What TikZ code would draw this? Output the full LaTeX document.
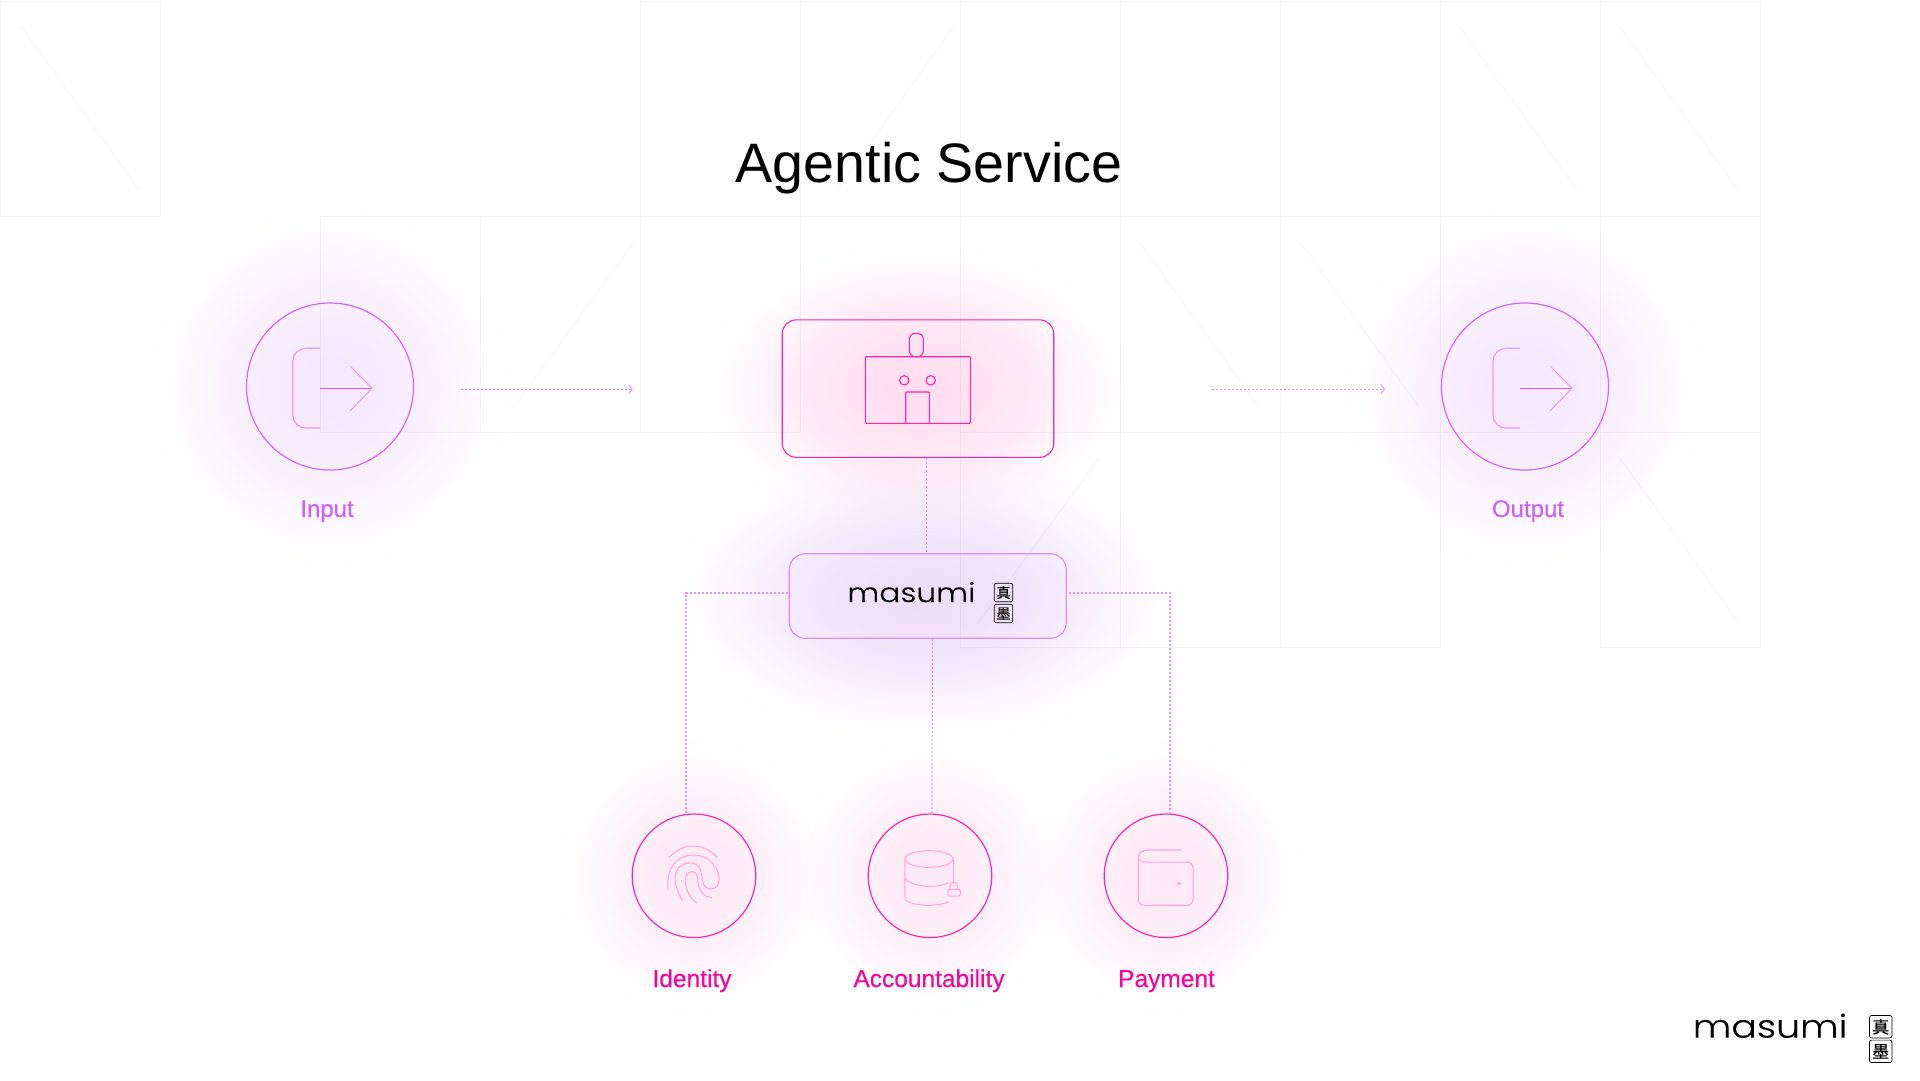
\documentclass[tikz,border=0pt]{standalone}
\usepackage{fontspec}
\usetikzlibrary{arrows.meta,calc}
\setmainfont{Liberation Sans}
\newfontfamily\labelfont[FakeBold=0.35]{Liberation Sans}
\newfontfamily\logofont[FakeStretch=1.18,FakeBold=0.15]{Poppins Light}
\newfontfamily\kanjifont[FakeBold=0.2]{Noto Sans CJK JP}
\definecolor{gridc}{HTML}{F5F5F6}
\definecolor{diagc}{HTML}{F6F6F8}
\definecolor{pinkline}{HTML}{F22AA6}
\definecolor{pinktext}{HTML}{F5069A}
\definecolor{pinkpale}{HTML}{FFA2DA}
\definecolor{purpline}{HTML}{CE6AF2}
\definecolor{purptext}{HTML}{CC62F3}
\definecolor{purppale}{HTML}{DDA0F5}
\definecolor{boxpurp}{HTML}{DA90F6}
\definecolor{dotc}{HTML}{DC94F6}
\definecolor{tintio}{HTML}{F5E6FC}
\definecolor{tintag}{HTML}{FFDCEE}
\definecolor{tintma}{HTML}{EEDCF8}
\definecolor{tintsm}{HTML}{FDE8F5}
\newcommand{\declglow}[2]{\pgfdeclareradialshading{#1}{\pgfpointorigin}{color(0bp)=(#2);color(7.2bp)=(#2!82!white);color(12.5bp)=(#2!60!white);color(16.8bp)=(#2!28!white);color(20.4bp)=(#2!8!white);color(24bp)=(white);color(50bp)=(white)}}
\declglow{glowio}{tintio}
\declglow{glowag}{tintag}
\declglow{glowma}{tintma}
\declglow{glowsm}{tintsm}
\tikzset{
  gridline/.style={draw=gridc,line width=0.9pt},
  diagline/.style={draw=diagc,line width=0.8pt},
  bigcircle/.style={circle,draw=purpline,line width=1.2pt,minimum size=167pt,inner sep=0pt},
  smallcircle/.style={circle,draw=pinkline,line width=1.2pt,minimum size=123.5pt,inner sep=0pt},
  agentbox/.style={rectangle,rounded corners=14pt,draw=pinkline,line width=1.1pt,minimum width=271.5pt,minimum height=137.5pt,inner sep=0pt},
  masumibox/.style={rectangle,rounded corners=16pt,draw=boxpurp,line width=1.2pt,minimum width=277pt,minimum height=84.5pt,inner sep=0pt},
  dotlink/.style={draw=dotc,line width=1.2pt,dash pattern=on 2pt off 2pt},
  dotarrow/.style={dotlink,line width=1pt,-{Straight Barb[length=3.5pt,width=9pt,line width=.9pt,color=dotc]}},
  titletext/.style={anchor=base,font=\fontsize{55.6}{60}\selectfont,text=black,inner sep=0pt},
  purplabel/.style={anchor=base,font=\labelfont\fontsize{24}{28}\selectfont,text=purptext,inner sep=0pt},
  pinklabel/.style={anchor=base,font=\labelfont\fontsize{24.5}{28}\selectfont,text=pinktext,inner sep=0pt},
  robotline/.style={draw=pinkline,line width=1.1pt,rounded corners=1pt},
  icon1/.style={draw=pinkpale,line width=1pt,line cap=round},
  sealbox/.style={draw=black,line width=.7pt,rounded corners=2pt,minimum size=#1,inner sep=0pt,anchor=center},
}
\begin{document}
\begin{tikzpicture}[x=1pt,y=-1pt]
\useasboundingbox (0,0) rectangle (1920,1080);
\fill[white] (0,0) rectangle (1920,1080);
% background grid
\draw[gridline] (0,1) rectangle (160,216.5);
\draw[gridline] (640,1) -- (1760,1) (320,216.5) -- (1760,216.5) (320,432.5) -- (800,432.5) (960,432.5) -- (1760,432.5) (960,647.5) -- (1440,647.5) (1600,647.5) -- (1760,647.5);
\foreach \x in {640,800,960,1120,1280,1440,1600,1760} \draw[gridline] (\x,1) -- (\x,216.5);
\foreach \x in {320,480,640,800,960,1120,1280,1440,1600,1760} \draw[gridline] (\x,216.5) -- (\x,432.5);
\foreach \x in {960,1120,1280,1440,1600,1760} \draw[gridline] (\x,432.5) -- (\x,647.5);
\draw[diagline] (21,26) -- (140,191) (954,26) -- (836,191) (1459,26) -- (1578,191) (1619,26) -- (1739,191)
  (634,242) -- (514,407) (1139,242) -- (1259,407) (1300,242) -- (1419,407)
  (1100,457) -- (978,623) (1619,457) -- (1739,623);
% glows
\begin{scope}[blend mode=multiply]
\shade[shading=glowio] (330,386.5) ellipse [x radius=195,y radius=195];
\shade[shading=glowio] (1525,386.5) ellipse [x radius=195,y radius=195];
\shade[shading=glowag] (918,388) ellipse [x radius=235,y radius=155];
\shade[shading=glowma] (925,597) ellipse [x radius=275,y radius=155];
\shade[shading=glowsm] (694,876) ellipse [x radius=150,y radius=150];
\shade[shading=glowsm] (930,876) ellipse [x radius=150,y radius=150];
\shade[shading=glowsm] (1166,876) ellipse [x radius=150,y radius=150];
\end{scope}
% nodes
\node[bigcircle] (input) at (330,386.5) {};
\node[bigcircle] (output) at (1525,386.5) {};
\node[agentbox] (agent) at (918,388.6) {};
\node[masumibox] (masumi) at (927.8,596) {};
\node[smallcircle] (identity) at (694,875.8) {};
\node[smallcircle] (account) at (930,875.8) {};
\node[smallcircle] (payment) at (1166,875.8) {};
% connectors
\draw[dotarrow] ([xshift=47pt,yshift=-2.8pt]input.east) -- ([xshift=-149pt,yshift=-.7pt]agent.west);
\draw[dotarrow] ([xshift=158pt,yshift=-.7pt]agent.east) -- ([xshift=-56pt,yshift=-2.8pt]output.west);
\draw[dotlink] ([xshift=8.3pt]agent.south) -- ([xshift=-1.5pt]masumi.north);
\draw[dotlink] ([xshift=-1pt,yshift=3pt]masumi.west) -| ([xshift=-8pt]identity.north);
\draw[dotlink] ([xshift=4.5pt]masumi.south) -- ([xshift=2pt]account.north);
\draw[dotlink] ([xshift=2pt,yshift=3pt]masumi.east) -| ([xshift=4pt]payment.north);
% input icon
\draw[draw=purppale,line width=1.2pt,rounded corners=13pt] (320,348.3) -- (292.8,348.3) -- (292.8,428) -- (320,428);
\draw[draw=purpline,line width=1pt] (320,388.2) -- (372,388.2);
\draw[draw=purppale,line width=1pt] (350,366) -- (372,388.2) -- (350,411);
% output icon
\draw[draw=purppale,line width=1.2pt,rounded corners=13pt] (1520,348.3) -- (1493,348.3) -- (1493,428) -- (1520,428);
\draw[draw=purpline,line width=1pt] (1520,388.2) -- (1572,388.2);
\draw[draw=purppale,line width=1pt] (1550,366) -- (1572,388.2) -- (1550,411);
% robot
\draw[robotline] (865.3,356.7) rectangle (970.3,423.3);
\draw[robotline,rounded corners=6pt] (909.3,333.3) rectangle (923.3,356.7);
\draw[robotline] (905.7,423.3) -- (905.7,392) -- (929.3,392) -- (929.3,423.3);
\draw[draw=pinkline,line width=1.1pt] (904.3,380.3) circle [radius=4.7] (930.7,380.3) circle [radius=4.7];
% masumi logo in box
\node[anchor=base,inner sep=0pt,font=\logofont\fontsize{26.5}{30}\selectfont,text=black] (logoa) at (911.3,602) {masumi};
\node[sealbox=18.4pt,font=\kanjifont\fontsize{14}{14}\selectfont] (seala) at (1003.5,592.5) {真};
\node[sealbox=18.4pt,font=\kanjifont\fontsize{14}{14}\selectfont] (sealb) at (1003.5,613.5) {墨};
% bottom-right logo
\node[anchor=base,inner sep=0pt,font=\logofont\fontsize{32}{34}\selectfont,text=black] (logob) at (1770,1037.7) {masumi};
\node[sealbox=22.4pt,font=\kanjifont\fontsize{17}{17}\selectfont] (sealc) at (1880.7,1026.7) {真};
\node[sealbox=22.4pt,font=\kanjifont\fontsize{17}{17}\selectfont] (seald) at (1880.7,1051.3) {墨};
% fingerprint
\begin{scope}[shift={(620,800)},x=0.40816pt,y=-0.33333pt]
\draw[icon1] (120,172) .. controls (140,148) and (160,138) .. (180,138) .. controls (200,138) and (222,150) .. (238,172);
\draw[icon1] (118,268) .. controls (112,205) and (140,165) .. (180,165) .. controls (220,165) and (243,205) .. (243,238) .. controls (243,275) and (205,278) .. (202,240) .. controls (200,215) and (195,190) .. (175,189) .. controls (145,188) and (133,215) .. (135,240) .. controls (137,265) and (145,285) .. (153,300);
\draw[icon1] (188,308) .. controls (170,295) and (160,265) .. (160,240) .. controls (160,225) and (168,214) .. (178,215) .. controls (190,216) and (190,230) .. (191,245) .. controls (192,270) and (205,292) .. (224,292);
% database
\draw[icon1] (757,177) ellipse [x radius=59,y radius=25];
\draw[icon1] (698,177) -- (698,295) .. controls (700,308) and (730,316) .. (757,316) .. controls (775,316) and (790,312) .. (803,307);
\draw[icon1] (816,177) -- (816,250);
\draw[icon1] (698,234) .. controls (705,250) and (735,259) .. (757,259) .. controls (775,259) and (790,256) .. (803,250);
\draw[icon1,rounded corners=1.5pt] (803,268) rectangle (834,288);
\draw[icon1] (808,268) .. controls (808,238) and (828,238) .. (828,268);
% wallet
\draw[icon1,line width=1.4pt] (1373,150) -- (1295,150) .. controls (1280,150) and (1270,158) .. (1270,172);
\draw[icon1,rounded corners=6pt] (1270,172) -- (1270,316) -- (1404,316) -- (1404,186) -- (1290,186);
\draw[icon1] (1290,186) .. controls (1278,186) and (1270,180) .. (1270,172);
\draw[icon1] (1369,251) ellipse [x radius=3.2,y radius=4];
\end{scope}
% texts
\node[titletext] (title) at (929,182) {Agentic Service};
\node[purplabel] (inputlabel) at (327,517) {Input};
\node[purplabel] (outputlabel) at (1528,517) {Output};
\node[pinklabel] (identitylabel) at (692,987) {Identity};
\node[pinklabel] (accountlabel) at (929,987) {Accountability};
\node[pinklabel] (paymentlabel) at (1166.5,987) {Payment};
\end{tikzpicture}
\end{document}
